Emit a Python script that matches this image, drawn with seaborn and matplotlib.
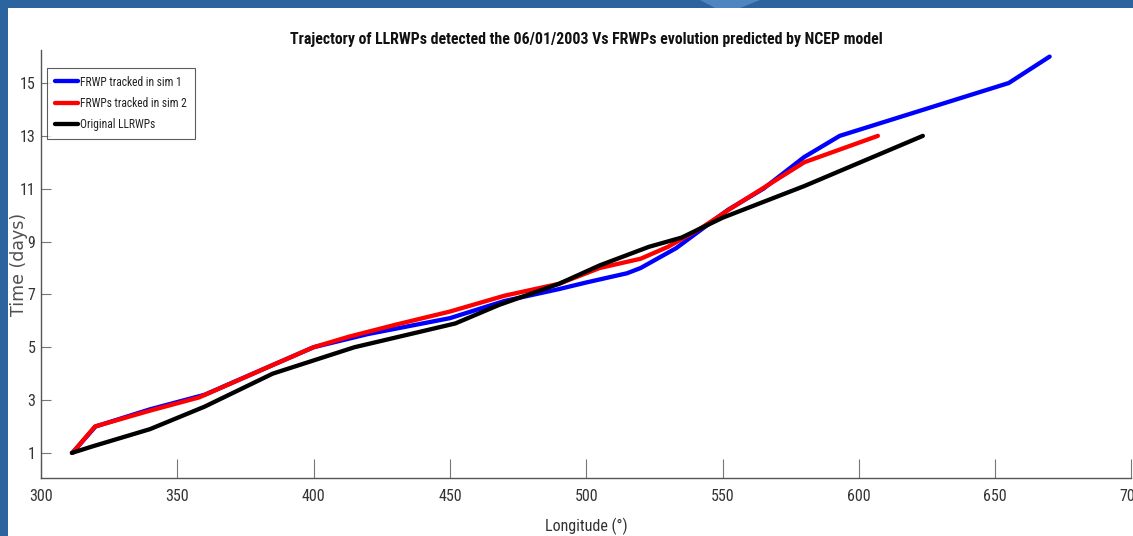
import matplotlib
matplotlib.use("Agg")
import matplotlib.pyplot as plt
from matplotlib import font_manager
from matplotlib.patches import Rectangle, Polygon
from matplotlib.lines import Line2D
import seaborn as sns
import pandas as pd

# ---------------- data ----------------
sim1_lon = [311.5, 320, 340, 360, 380, 400, 420, 450, 470, 490, 500, 515, 520, 533, 552, 565, 580, 593, 655, 670]
sim1_day = [1.0, 2.0, 2.65, 3.2, 4.1, 5.0, 5.5, 6.1, 6.75, 7.2, 7.45, 7.8, 8.0, 8.75, 10.2, 11.0, 12.2, 13.0, 15.0, 16.0]

sim2_lon = [311.5, 319.8, 340, 358, 380, 400, 413, 430, 450, 470, 490, 505, 520, 530, 542, 553, 580, 607]
sim2_day = [1.0, 2.0, 2.6, 3.1, 4.1, 5.0, 5.4, 5.85, 6.35, 6.95, 7.4, 8.0, 8.35, 8.8, 9.5, 10.25, 12.0, 13.0]

orig_lon = [311.3, 319, 340, 360, 385, 400, 415, 452, 468, 490, 505, 523, 535, 550, 580, 623.5]
orig_day = [1.0, 1.25, 1.9, 2.75, 4.0, 4.5, 5.0, 5.9, 6.6, 7.4, 8.1, 8.8, 9.15, 9.9, 11.1, 13.0]

series_names = ["FRWP tracked in sim 1", "FRWPs tracked in sim 2", "Original LLRWPs"]
series_colors = ["#0000ff", "#ff0000", "#000000"]

x_ticks = [300, 350, 400, 450, 500, 550, 600, 650, 700]
y_ticks = [1, 3, 5, 7, 9, 11, 13, 15]

title_text = "Trajectory of LLRWPs detected the 06/01/2003 Vs FRWPs evolution predicted by NCEP model"
xlabel_text = "Longitude (°)"
ylabel_text = "Time (days)"

# ---------------- table ----------------
frames = []
for name, lon, day in zip(series_names, [sim1_lon, sim2_lon, orig_lon], [sim1_day, sim2_day, orig_day]):
    frames.append(pd.DataFrame({"lon": lon, "day": day, "series": name}))
df = pd.concat(frames, ignore_index=True)

# ---------------- fonts ----------------
def pick_narrow():
    names = {f.name for f in font_manager.fontManager.ttflist}
    for cand in ("Liberation Sans Narrow", "Roboto Condensed", "Open Sans Condensed", "Arial Narrow"):
        if cand in names:
            return cand, "normal"
    for f in font_manager.fontManager.ttflist:
        if f.name == "DejaVu Sans" and str(f.stretch) in ("condensed", "semi-condensed"):
            return "DejaVu Sans", "condensed"
    return "Liberation Sans", "normal"

narrow, stretch = pick_narrow()

sns.set_theme(style="white")
plt.rcParams["font.family"] = [narrow, "DejaVu Sans"]
plt.rcParams["font.stretch"] = stretch

W, H = 1133, 536
fig = plt.figure(figsize=(W / 100, H / 100), dpi=100)
fig.patch.set_facecolor("#2c64a0")
fig.add_artist(Rectangle((8 / W, 0), 1 - 8 / W, 1 - 8 / H, transform=fig.transFigure,
                         facecolor="white", edgecolor="none", zorder=0))
fig.add_artist(Polygon([(700 / W, 1), (760 / W, 1), (740 / W, 1 - 8 / H), (715 / W, 1 - 8 / H)],
                       closed=True, transform=fig.transFigure, facecolor="#4f86c2",
                       edgecolor="none", zorder=0))

left, right, bottom, top = 41, 1131.4, 478, 50
ax = fig.add_axes([left / W, (H - bottom) / H, (right - left) / W, (bottom - top) / H])
ax.set_facecolor("white")

sns.lineplot(data=df, x="lon", y="day", hue="series", hue_order=series_names,
             palette=dict(zip(series_names, series_colors)), sort=False, estimator=None,
             units="series", linewidth=3.1, ax=ax, legend=False)

ax.set_xlim(300, 700)
ax.set_ylim(0.05, 16.25)
ax.set_xticks(x_ticks)
ax.set_yticks(y_ticks)
ax.set_xticklabels([str(v) for v in x_ticks])
ax.set_yticklabels([str(v) for v in y_ticks])

for s in ["top", "right"]:
    ax.spines[s].set_visible(False)
for s in ["left", "bottom"]:
    ax.spines[s].set_color("#555555")
    ax.spines[s].set_linewidth(1.0)

ax.tick_params(axis="x", direction="in", length=14, width=0.8, color="#777777",
               labelsize=11.5, labelcolor="#333333", pad=8, bottom=True)
ax.tick_params(axis="y", direction="in", length=7, width=0.8, color="#777777",
               labelsize=11.5, labelcolor="#333333", pad=4, left=True)

ax.set_title(title_text, fontsize=11.4, fontweight="bold", color="#111111", pad=4)
ax.set_xlabel(xlabel_text, fontsize=11.5, color="#333333")
ax.xaxis.set_label_coords(0.5, -0.094)
ax.xaxis.label.set_va("top")
ax.set_ylabel(ylabel_text, fontsize=12.5, color="#505050", family=["DejaVu Sans"], fontstretch="normal")
ax.yaxis.set_label_coords(-0.0115, 0.5)

handles = [Line2D([], [], color=c, linewidth=3.1) for c in series_colors]
leg = ax.legend(handles, series_names, loc="upper left", bbox_to_anchor=(0.0055, 0.958),
                borderaxespad=0, fontsize=8.3, frameon=True, fancybox=False,
                handlelength=2.0, handleheight=1.0, handletextpad=0.2, labelspacing=0.7,
                borderpad=0.7, edgecolor="#333333")
leg.get_frame().set_linewidth(0.8)
for t in leg.get_texts():
    t.set_color("#222222")

fig.savefig("out.png", dpi=100, facecolor=fig.get_facecolor())
